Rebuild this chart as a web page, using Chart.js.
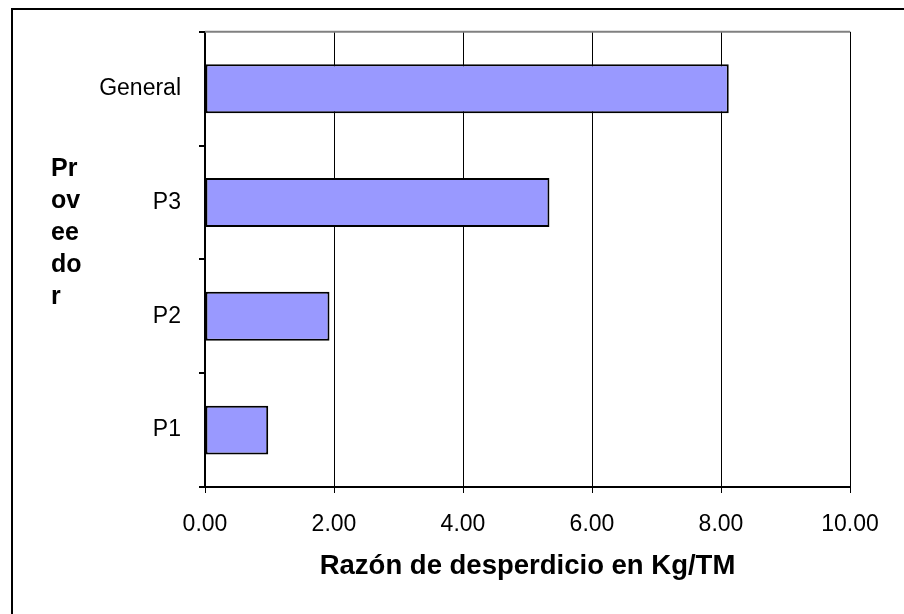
<!DOCTYPE html>
<html>
<head>
<meta charset="utf-8">
<script src="https://cdn.jsdelivr.net/npm/chart.js@4"></script>
<style>
    html, body { margin: 0; padding: 0; background: #fff; overflow: hidden; }
    #marco { position: absolute; left: 11px; top: 8px; width: 1000px; height: 1000px; border: 2px solid #000; }
    #caja { position: absolute; left: 0; top: 0; width: 904px; height: 614px; }
</style>
</head>
<body>
<div id="marco"></div>
<div id="caja"><canvas id="grafico"></canvas></div>
<script>
var proveedores = ['General', 'P3', 'P2', 'P1'];
var razones = [8.12, 5.34, 1.93, 0.98];
var ticksX = [0, 2, 4, 6, 8, 10];
var tituloX = 'Razón de desperdicio en Kg/TM';
var tituloY = ['Pr', 'ov', 'ee', 'do', 'r'];

// Plugin - titulos y borde gris superior del area
var extras = {
    id: 'extras',
    afterDraw: function (chart) {
        var ctx = chart.ctx;
        var a = chart.chartArea;
        ctx.save();
        ctx.strokeStyle = '#808080';
        ctx.lineWidth = 2;
        ctx.beginPath();
        ctx.moveTo(a.left, a.top);
        ctx.lineTo(a.right, a.top);
        ctx.stroke();
        ctx.fillStyle = '#000';
        ctx.font = 'bold 27.5px "Liberation Sans", Arial, sans-serif';
        ctx.textAlign = 'center';
        ctx.textBaseline = 'middle';
        ctx.fillText(tituloX, (a.left + a.right) / 2, 566);
        ctx.font = 'bold 25px "Liberation Sans", Arial, sans-serif';
        ctx.textAlign = 'left';
        for (var i = 0; i < tituloY.length; i++) {
            ctx.fillText(tituloY[i], 51, 169 + i * 32);
        }
        ctx.restore();
    }
};

var ctx = document.getElementById('grafico').getContext('2d');
new Chart(ctx, {
    type: 'bar',
    data: {
        labels: proveedores,
        datasets: [{
            label: 'Razón',
            data: razones,
            backgroundColor: '#9999FF',
            borderColor: '#000',
            borderWidth: 2,
            borderSkipped: false,
            categoryPercentage: 1,
            barPercentage: 0.43
        }]
    },
    options: {
        indexAxis: 'y',
        responsive: true,
        maintainAspectRatio: false,
        animation: false,
        layout: { padding: { left: 0, top: 30, right: 54, bottom: 0 } },
        plugins: {
            legend: { display: false },
            tooltip: { enabled: false }
        },
        scales: {
            x: {
                min: 0,
                max: 10,
                afterBuildTicks: function (scale) {
                    scale.ticks = ticksX.map(function (v) { return { value: v }; });
                },
                afterFit: function (scale) { scale.height = 127; },
                ticks: {
                    color: '#000',
                    padding: 18,
                    maxRotation: 0,
                    font: { family: '"Liberation Sans", Arial, sans-serif', size: 23 },
                    callback: function (v) { return Number(v).toFixed(2); }
                },
                grid: { color: '#000', lineWidth: 1, tickLength: 6, tickColor: '#000' },
                border: { color: '#000', width: 2 }
            },
            y: {
                afterFit: function (scale) { scale.width = 205; },
                ticks: {
                    color: '#000',
                    padding: 18,
                    font: { family: '"Liberation Sans", Arial, sans-serif', size: 23 }
                },
                grid: { drawOnChartArea: false, offset: true, tickLength: 6, tickColor: '#000', lineWidth: 2 },
                border: { color: '#000', width: 2 }
            }
        }
    },
    plugins: [extras]
});
</script>
</body>
</html>
